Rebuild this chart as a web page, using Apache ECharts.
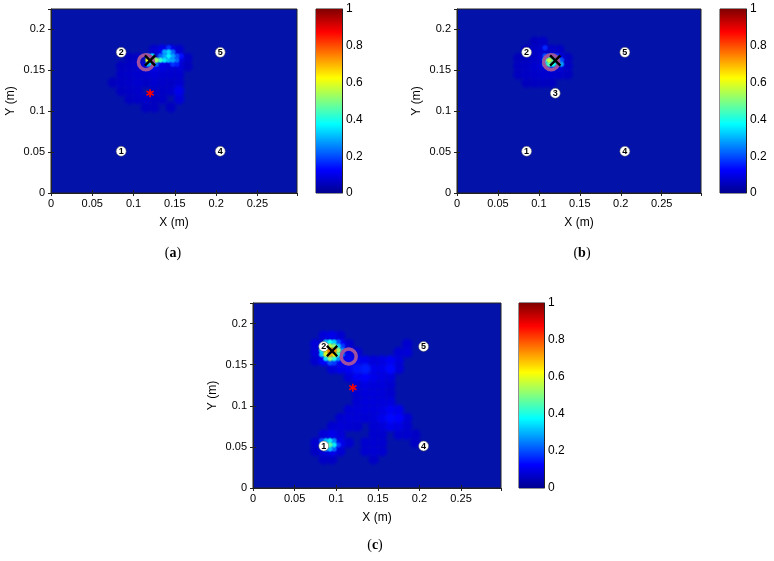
<!DOCTYPE html>
<html>
<head>
<meta charset="utf-8">
<script src="https://cdn.jsdelivr.net/npm/echarts@6/dist/echarts.min.js"></script>
<style>
  html, body { margin: 0; padding: 0; background: #fff; }
  #chart { width: 774px; height: 561px; }
</style>
</head>
<body>
<div id="chart"></div>
<script>
// colour scale (jet) and colorbar ticks
const jetColors = ['#00008f', '#0000ff', '#0080ff', '#00ffff', '#80ff80', '#ffff00', '#ff8000', '#ff0000', '#800000']
const barTicks = [0, 0.2, 0.4, 0.6, 0.8, 1]

// sensor positions (x, y, id)
const anchorsAC = [[0.085, 0.051, '1'], [0.085, 0.172, '2'], [0.205, 0.051, '4'], [0.205, 0.172, '5']]
const anchorsB = [[0.085, 0.051, '1'], [0.085, 0.172, '2'], [0.12, 0.122, '3'], [0.205, 0.051, '4'], [0.205, 0.172, '5']]
// true source (ring), sensor 3 as asterisk, estimates (cross)
const ringPos = [0.115, 0.160]
const starPos = [0.12, 0.122]
const crossA = [0.12, 0.162]
const crossB = [0.12, 0.162]
const crossC = [0.095, 0.1665]

// coarse cells (0.01 m): centre x, centre y, value
const hazeA = [
  [0.125, 0.175, 0.07], [0.135, 0.175, 0.1], [0.145, 0.175, 0.1], [0.155, 0.175, 0.07],
  [0.095, 0.165, 0.055], [0.105, 0.165, 0.06], [0.135, 0.165, 0.13], [0.145, 0.165, 0.13], [0.155, 0.165, 0.1], [0.165, 0.165, 0.06],
  [0.085, 0.155, 0.055], [0.095, 0.155, 0.06], [0.105, 0.155, 0.07], [0.115, 0.155, 0.08], [0.125, 0.155, 0.1], [0.135, 0.155, 0.09], [0.145, 0.155, 0.08], [0.155, 0.155, 0.08], [0.165, 0.155, 0.055],
  [0.085, 0.145, 0.06], [0.095, 0.145, 0.065], [0.105, 0.145, 0.07], [0.115, 0.145, 0.07], [0.125, 0.145, 0.08], [0.135, 0.145, 0.07], [0.145, 0.145, 0.07], [0.155, 0.145, 0.07],
  [0.075, 0.135, 0.05], [0.085, 0.135, 0.06], [0.095, 0.135, 0.065], [0.105, 0.135, 0.07], [0.115, 0.135, 0.06], [0.125, 0.135, 0.07], [0.135, 0.135, 0.065], [0.145, 0.135, 0.06], [0.155, 0.135, 0.07],
  [0.085, 0.125, 0.055], [0.095, 0.125, 0.06], [0.105, 0.125, 0.065], [0.125, 0.125, 0.06], [0.135, 0.125, 0.06], [0.145, 0.125, 0.065], [0.155, 0.125, 0.1],
  [0.095, 0.115, 0.055], [0.105, 0.115, 0.06], [0.115, 0.115, 0.065], [0.125, 0.115, 0.055], [0.135, 0.115, 0.06], [0.155, 0.115, 0.08],
  [0.115, 0.105, 0.055], [0.125, 0.105, 0.055], [0.145, 0.105, 0.055]
]
// fine cells (0.005 m)
const hotA = [
  [0.1175, 0.1625, 0.6], [0.1225, 0.1625, 0.68], [0.1275, 0.1625, 0.52], [0.1325, 0.1625, 0.42], [0.1375, 0.1625, 0.35], [0.1425, 0.1625, 0.3], [0.1475, 0.1625, 0.28], [0.1525, 0.1625, 0.22],
  [0.1175, 0.1675, 0.3], [0.1225, 0.1675, 0.35], [0.1325, 0.1675, 0.22], [0.1375, 0.1675, 0.28], [0.1425, 0.1675, 0.36], [0.1475, 0.1675, 0.28], [0.1525, 0.1675, 0.2], [0.1575, 0.1675, 0.14],
  [0.1375, 0.1725, 0.28], [0.1425, 0.1725, 0.33], [0.1475, 0.1725, 0.22],
  [0.1425, 0.1775, 0.17],
  [0.1175, 0.1575, 0.3], [0.1225, 0.1575, 0.35], [0.1275, 0.1575, 0.22], [0.1475, 0.1575, 0.17], [0.1525, 0.1575, 0.15]
]

const hazeB = [
  [0.095, 0.185, 0.05], [0.105, 0.185, 0.06],
  [0.085, 0.175, 0.05], [0.095, 0.175, 0.06], [0.105, 0.175, 0.07], [0.115, 0.175, 0.065], [0.125, 0.175, 0.06],
  [0.075, 0.165, 0.05], [0.085, 0.165, 0.055], [0.095, 0.165, 0.06], [0.105, 0.165, 0.08], [0.125, 0.165, 0.08], [0.135, 0.165, 0.055],
  [0.075, 0.155, 0.055], [0.085, 0.155, 0.06], [0.095, 0.155, 0.07], [0.105, 0.155, 0.08], [0.125, 0.155, 0.08], [0.135, 0.155, 0.06],
  [0.075, 0.145, 0.055], [0.085, 0.145, 0.06], [0.095, 0.145, 0.065], [0.105, 0.145, 0.07], [0.115, 0.145, 0.07], [0.125, 0.145, 0.065], [0.135, 0.145, 0.055],
  [0.085, 0.135, 0.05], [0.095, 0.135, 0.055], [0.105, 0.135, 0.055], [0.115, 0.135, 0.055]
]
const hotB = [
  [0.1075, 0.1625, 0.4], [0.1125, 0.1625, 0.56], [0.1175, 0.1625, 0.45], [0.1225, 0.1625, 0.32], [0.1275, 0.1625, 0.2],
  [0.1075, 0.1575, 0.32], [0.1125, 0.1575, 0.45], [0.1175, 0.1575, 0.4], [0.1225, 0.1575, 0.3], [0.1275, 0.1575, 0.28],
  [0.1075, 0.1675, 0.2], [0.1125, 0.1675, 0.25], [0.1175, 0.1675, 0.25], [0.1225, 0.1675, 0.17],
  [0.1125, 0.1525, 0.18], [0.1175, 0.1525, 0.16],
  [0.1075, 0.1775, 0.16]
]

const hazeC = [
  [0.085, 0.185, 0.08], [0.095, 0.185, 0.1], [0.105, 0.185, 0.07],
  [0.075, 0.175, 0.08], [0.105, 0.175, 0.12], [0.115, 0.175, 0.07], [0.185, 0.175, 0.07],
  [0.075, 0.165, 0.08], [0.115, 0.165, 0.1], [0.125, 0.165, 0.08], [0.175, 0.165, 0.075], [0.185, 0.165, 0.08],
  [0.075, 0.155, 0.07], [0.085, 0.155, 0.12], [0.095, 0.155, 0.15], [0.105, 0.155, 0.12], [0.115, 0.155, 0.12], [0.125, 0.155, 0.11], [0.135, 0.155, 0.1], [0.145, 0.155, 0.08], [0.155, 0.155, 0.09], [0.165, 0.155, 0.11], [0.175, 0.155, 0.085],
  [0.095, 0.145, 0.08], [0.105, 0.145, 0.1], [0.115, 0.145, 0.11], [0.125, 0.145, 0.14], [0.135, 0.145, 0.15], [0.145, 0.145, 0.1], [0.155, 0.145, 0.1], [0.165, 0.145, 0.13], [0.175, 0.145, 0.08],
  [0.115, 0.135, 0.08], [0.125, 0.135, 0.11], [0.135, 0.135, 0.12], [0.145, 0.135, 0.1], [0.155, 0.135, 0.09], [0.165, 0.135, 0.085],
  [0.125, 0.125, 0.08], [0.135, 0.125, 0.09], [0.145, 0.125, 0.085], [0.155, 0.125, 0.085], [0.165, 0.125, 0.07],
  [0.125, 0.115, 0.075], [0.135, 0.115, 0.085], [0.145, 0.115, 0.085], [0.155, 0.115, 0.08], [0.165, 0.115, 0.07],
  [0.125, 0.105, 0.075], [0.135, 0.105, 0.085], [0.145, 0.105, 0.085], [0.155, 0.105, 0.085], [0.165, 0.105, 0.085],
  [0.115, 0.095, 0.075], [0.125, 0.095, 0.08], [0.135, 0.095, 0.085], [0.145, 0.095, 0.085], [0.155, 0.095, 0.09], [0.165, 0.095, 0.11], [0.175, 0.095, 0.1],
  [0.105, 0.085, 0.07], [0.115, 0.085, 0.08], [0.125, 0.085, 0.08], [0.135, 0.085, 0.075], [0.145, 0.085, 0.08], [0.155, 0.085, 0.1], [0.165, 0.085, 0.13], [0.175, 0.085, 0.12], [0.185, 0.085, 0.075],
  [0.095, 0.075, 0.07], [0.105, 0.075, 0.08], [0.115, 0.075, 0.075], [0.125, 0.075, 0.07], [0.145, 0.075, 0.075], [0.155, 0.075, 0.08], [0.165, 0.075, 0.1], [0.175, 0.075, 0.09], [0.185, 0.075, 0.07],
  [0.085, 0.065, 0.08], [0.095, 0.065, 0.1], [0.105, 0.065, 0.08], [0.145, 0.065, 0.07], [0.155, 0.065, 0.07], [0.175, 0.065, 0.07], [0.185, 0.065, 0.07], [0.195, 0.065, 0.06],
  [0.075, 0.055, 0.07], [0.105, 0.055, 0.1], [0.115, 0.055, 0.07], [0.135, 0.055, 0.07], [0.145, 0.055, 0.075], [0.155, 0.055, 0.07], [0.195, 0.055, 0.06],
  [0.075, 0.045, 0.06], [0.085, 0.045, 0.08], [0.095, 0.045, 0.1], [0.105, 0.045, 0.075], [0.135, 0.045, 0.07], [0.145, 0.045, 0.075], [0.155, 0.045, 0.07],
  [0.085, 0.035, 0.06], [0.095, 0.035, 0.06], [0.145, 0.035, 0.06]
]
const hotC = [
  [0.0875, 0.1775, 0.3], [0.0925, 0.1775, 0.38], [0.0975, 0.1775, 0.32], [0.1025, 0.1775, 0.2],
  [0.0825, 0.1725, 0.32], [0.0875, 0.1725, 0.45], [0.0925, 0.1725, 0.55], [0.0975, 0.1725, 0.5], [0.1025, 0.1725, 0.32], [0.1075, 0.1725, 0.18],
  [0.0825, 0.1675, 0.38], [0.0875, 0.1675, 0.62], [0.0925, 0.1675, 0.75], [0.0975, 0.1675, 0.72], [0.1025, 0.1675, 0.52], [0.1075, 0.1675, 0.26],
  [0.0825, 0.1625, 0.32], [0.0875, 0.1625, 0.58], [0.0925, 0.1625, 0.7], [0.0975, 0.1625, 0.64], [0.1025, 0.1625, 0.42], [0.1075, 0.1625, 0.22],
  [0.0875, 0.1575, 0.34], [0.0925, 0.1575, 0.5], [0.0975, 0.1575, 0.4], [0.1025, 0.1575, 0.26],
  [0.0925, 0.1525, 0.2], [0.0975, 0.1525, 0.18],
  [0.0825, 0.0575, 0.2], [0.0875, 0.0575, 0.3], [0.0925, 0.0575, 0.35], [0.0975, 0.0575, 0.25],
  [0.0825, 0.0525, 0.25], [0.0875, 0.0525, 0.35], [0.0925, 0.0525, 0.45], [0.0975, 0.0525, 0.35], [0.1025, 0.0525, 0.18],
  [0.0875, 0.0475, 0.25], [0.0925, 0.0475, 0.3], [0.0975, 0.0475, 0.22]
]

const panels = [
  { tag: 'a', plot: { left: 51, top: 9, width: 246, height: 184 }, bar: { left: 316, top: 9, width: 26, height: 184 },
    caption: [173, 253], haze: hazeA, hot: hotA, anchors: anchorsAC, cross: crossA, star: true },
  { tag: 'b', plot: { left: 457, top: 9, width: 244, height: 184 }, bar: { left: 720, top: 9, width: 26, height: 184 },
    caption: [582, 253], haze: hazeB, hot: hotB, anchors: anchorsB, cross: crossB, star: false },
  { tag: 'c', plot: { left: 253, top: 303, width: 248, height: 185 }, bar: { left: 519, top: 303, width: 25, height: 185 },
    caption: [375, 545], haze: hazeC, hot: hotC, anchors: anchorsAC, cross: crossC, star: true }
]

const font = 'Liberation Sans'
const labelStyle = { color: '#000', fontFamily: font, fontSize: 11 }

// each cell is drawn as a soft splat so that neighbours blend like the interpolated image
const cellRenderer = size => (params, api) => {
  const s = size * 0.9
  const p0 = api.coord([api.value(0) - s, api.value(1) + s])
  const p1 = api.coord([api.value(0) + s, api.value(1) - s])
  const c = api.visual('color')
  return {
    type: 'rect',
    shape: { x: p0[0], y: p0[1], width: p1[0] - p0[0], height: p1[1] - p0[1] },
    style: {
      fill: new echarts.graphic.RadialGradient(0.5, 0.5, 0.5, [
        { offset: 0, color: c },
        { offset: 0.4, color: c },
        { offset: 1, color: echarts.color.modifyAlpha(c, 0) }
      ])
    }
  }
}

const byValue = (a, b) => a[2] - b[2]

const jetGradient = new echarts.graphic.LinearGradient(0, 1, 0, 0,
  jetColors.map((c, i) => ({ offset: i / (jetColors.length - 1), color: c })))

const option = {
  animation: false,
  backgroundColor: '#fff',
  grid: [], xAxis: [], yAxis: [], series: [], graphic: [],
  visualMap: { show: false, min: 0, max: 1, dimension: 2, seriesIndex: [], inRange: { color: jetColors } }
}

panels.forEach(p => {
  const g = option.grid.length
  option.grid.push({ show: true, ...p.plot, backgroundColor: '#0312a9', borderColor: '#222', borderWidth: 1 })
  option.grid.push({ show: true, ...p.bar, borderColor: '#222', borderWidth: 1 })

  const xi = option.xAxis.length
  const yi = option.yAxis.length
  option.xAxis.push({
    type: 'value', gridIndex: g, min: 0, max: 0.298, interval: 0.05, position: 'bottom',
    name: 'X (m)', nameLocation: 'middle', nameGap: 24, nameTextStyle: { ...labelStyle, fontSize: 12 },
    axisLine: { show: true, onZero: false, lineStyle: { color: '#222' } },
    axisTick: { inside: true, length: 3, lineStyle: { color: '#222' } },
    axisLabel: { ...labelStyle, margin: 5, showMaxLabel: false },
    splitLine: { show: false }
  })
  option.xAxis.push({
    type: 'value', gridIndex: g, min: 0, max: 0.298, interval: 0.05, position: 'top',
    axisLine: { show: false }, axisTick: { inside: true, length: 3, lineStyle: { color: '#222' } },
    axisLabel: { show: false }, splitLine: { show: false }
  })
  option.xAxis.push({ type: 'category', gridIndex: g + 1, data: ['cb'], show: false })

  option.yAxis.push({
    type: 'value', gridIndex: g, min: 0, max: 0.225, interval: 0.05, position: 'left',
    name: 'Y (m)', nameLocation: 'middle', nameGap: 34, nameTextStyle: { ...labelStyle, fontSize: 12 },
    axisLine: { show: true, onZero: false, lineStyle: { color: '#222' } },
    axisTick: { inside: true, length: 3, lineStyle: { color: '#222' } },
    axisLabel: { ...labelStyle, margin: 6, showMaxLabel: false },
    splitLine: { show: false }
  })
  option.yAxis.push({
    type: 'value', gridIndex: g, min: 0, max: 0.225, interval: 0.05, position: 'right',
    axisLine: { show: false }, axisTick: { inside: true, length: 3, lineStyle: { color: '#222' } },
    axisLabel: { show: false }, splitLine: { show: false }
  })
  option.yAxis.push({
    type: 'value', gridIndex: g + 1, min: 0, max: 1, interval: 0.2, position: 'right',
    axisLine: { show: true, lineStyle: { color: '#222' } },
    axisTick: { inside: true, length: 3, lineStyle: { color: '#222' } },
    axisLabel: { ...labelStyle, fontSize: 12, margin: 4 },
    splitLine: { show: false }
  })

  const onPlot = { xAxisIndex: xi, yAxisIndex: yi }

  option.visualMap.seriesIndex.push(option.series.length)
  option.series.push({ type: 'custom', ...onPlot, clip: true, renderItem: cellRenderer(0.01), data: p.haze.slice().sort(byValue), z: 2 })
  option.visualMap.seriesIndex.push(option.series.length)
  option.series.push({ type: 'custom', ...onPlot, clip: true, renderItem: cellRenderer(0.005), data: p.hot.slice().sort(byValue), z: 3 })

  option.series.push({
    type: 'scatter', ...onPlot, symbol: 'circle', symbolSize: 10, z: 5,
    itemStyle: { color: '#fff', borderColor: '#555', borderWidth: 0.5, opacity: 1 },
    label: { show: true, position: 'inside', formatter: '{b}', color: '#000', fontFamily: font, fontSize: 9, fontWeight: 'bold' },
    data: p.anchors.map(a => ({ name: a[2], value: [a[0], a[1]] }))
  })
  if (p.star) {
    option.series.push({
      type: 'scatter', ...onPlot, z: 5, symbolSize: 8,
      symbol: 'path://M4,0L6,0L6,3.3L9,1.6L10,3.3L7,5L10,6.7L9,8.4L6,6.7L6,10L4,10L4,6.7L1,8.4L0,6.7L3,5L0,3.3L1,1.6L4,3.3Z',
      itemStyle: { color: '#ff0000', opacity: 1 },
      data: [starPos]
    })
  }
  option.series.push({
    type: 'scatter', ...onPlot, z: 6, symbol: 'circle', symbolSize: 15,
    itemStyle: { color: 'rgba(0,0,0,0)', borderColor: '#a0529e', borderWidth: 3.5, opacity: 1 },
    data: [ringPos]
  })
  option.series.push({
    type: 'scatter', ...onPlot, z: 7, symbolSize: 12,
    symbol: 'path://M0,1.4L1.4,0L5,3.6L8.6,0L10,1.4L6.4,5L10,8.6L8.6,10L5,6.4L1.4,10L0,8.6L3.6,5Z',
    itemStyle: { color: '#000', opacity: 1 },
    data: [p.cross]
  })

  // colour bar
  option.series.push({
    type: 'bar', xAxisIndex: xi + 2, yAxisIndex: yi + 2, barWidth: '100%', silent: true,
    itemStyle: { color: jetGradient },
    data: [barTicks[barTicks.length - 1]]
  })

  option.graphic.push({
    type: 'text', x: p.caption[0], y: p.caption[1],
    style: {
      text: '({b|' + p.tag + '})', align: 'center', verticalAlign: 'middle',
      fontFamily: 'Liberation Serif', fontSize: 14, fill: '#000',
      rich: { b: { fontFamily: 'Liberation Serif', fontSize: 14, fontWeight: 'bold' } }
    }
  })
})

const chart = echarts.init(document.getElementById('chart'))
chart.setOption(option)
</script>
</body>
</html>
